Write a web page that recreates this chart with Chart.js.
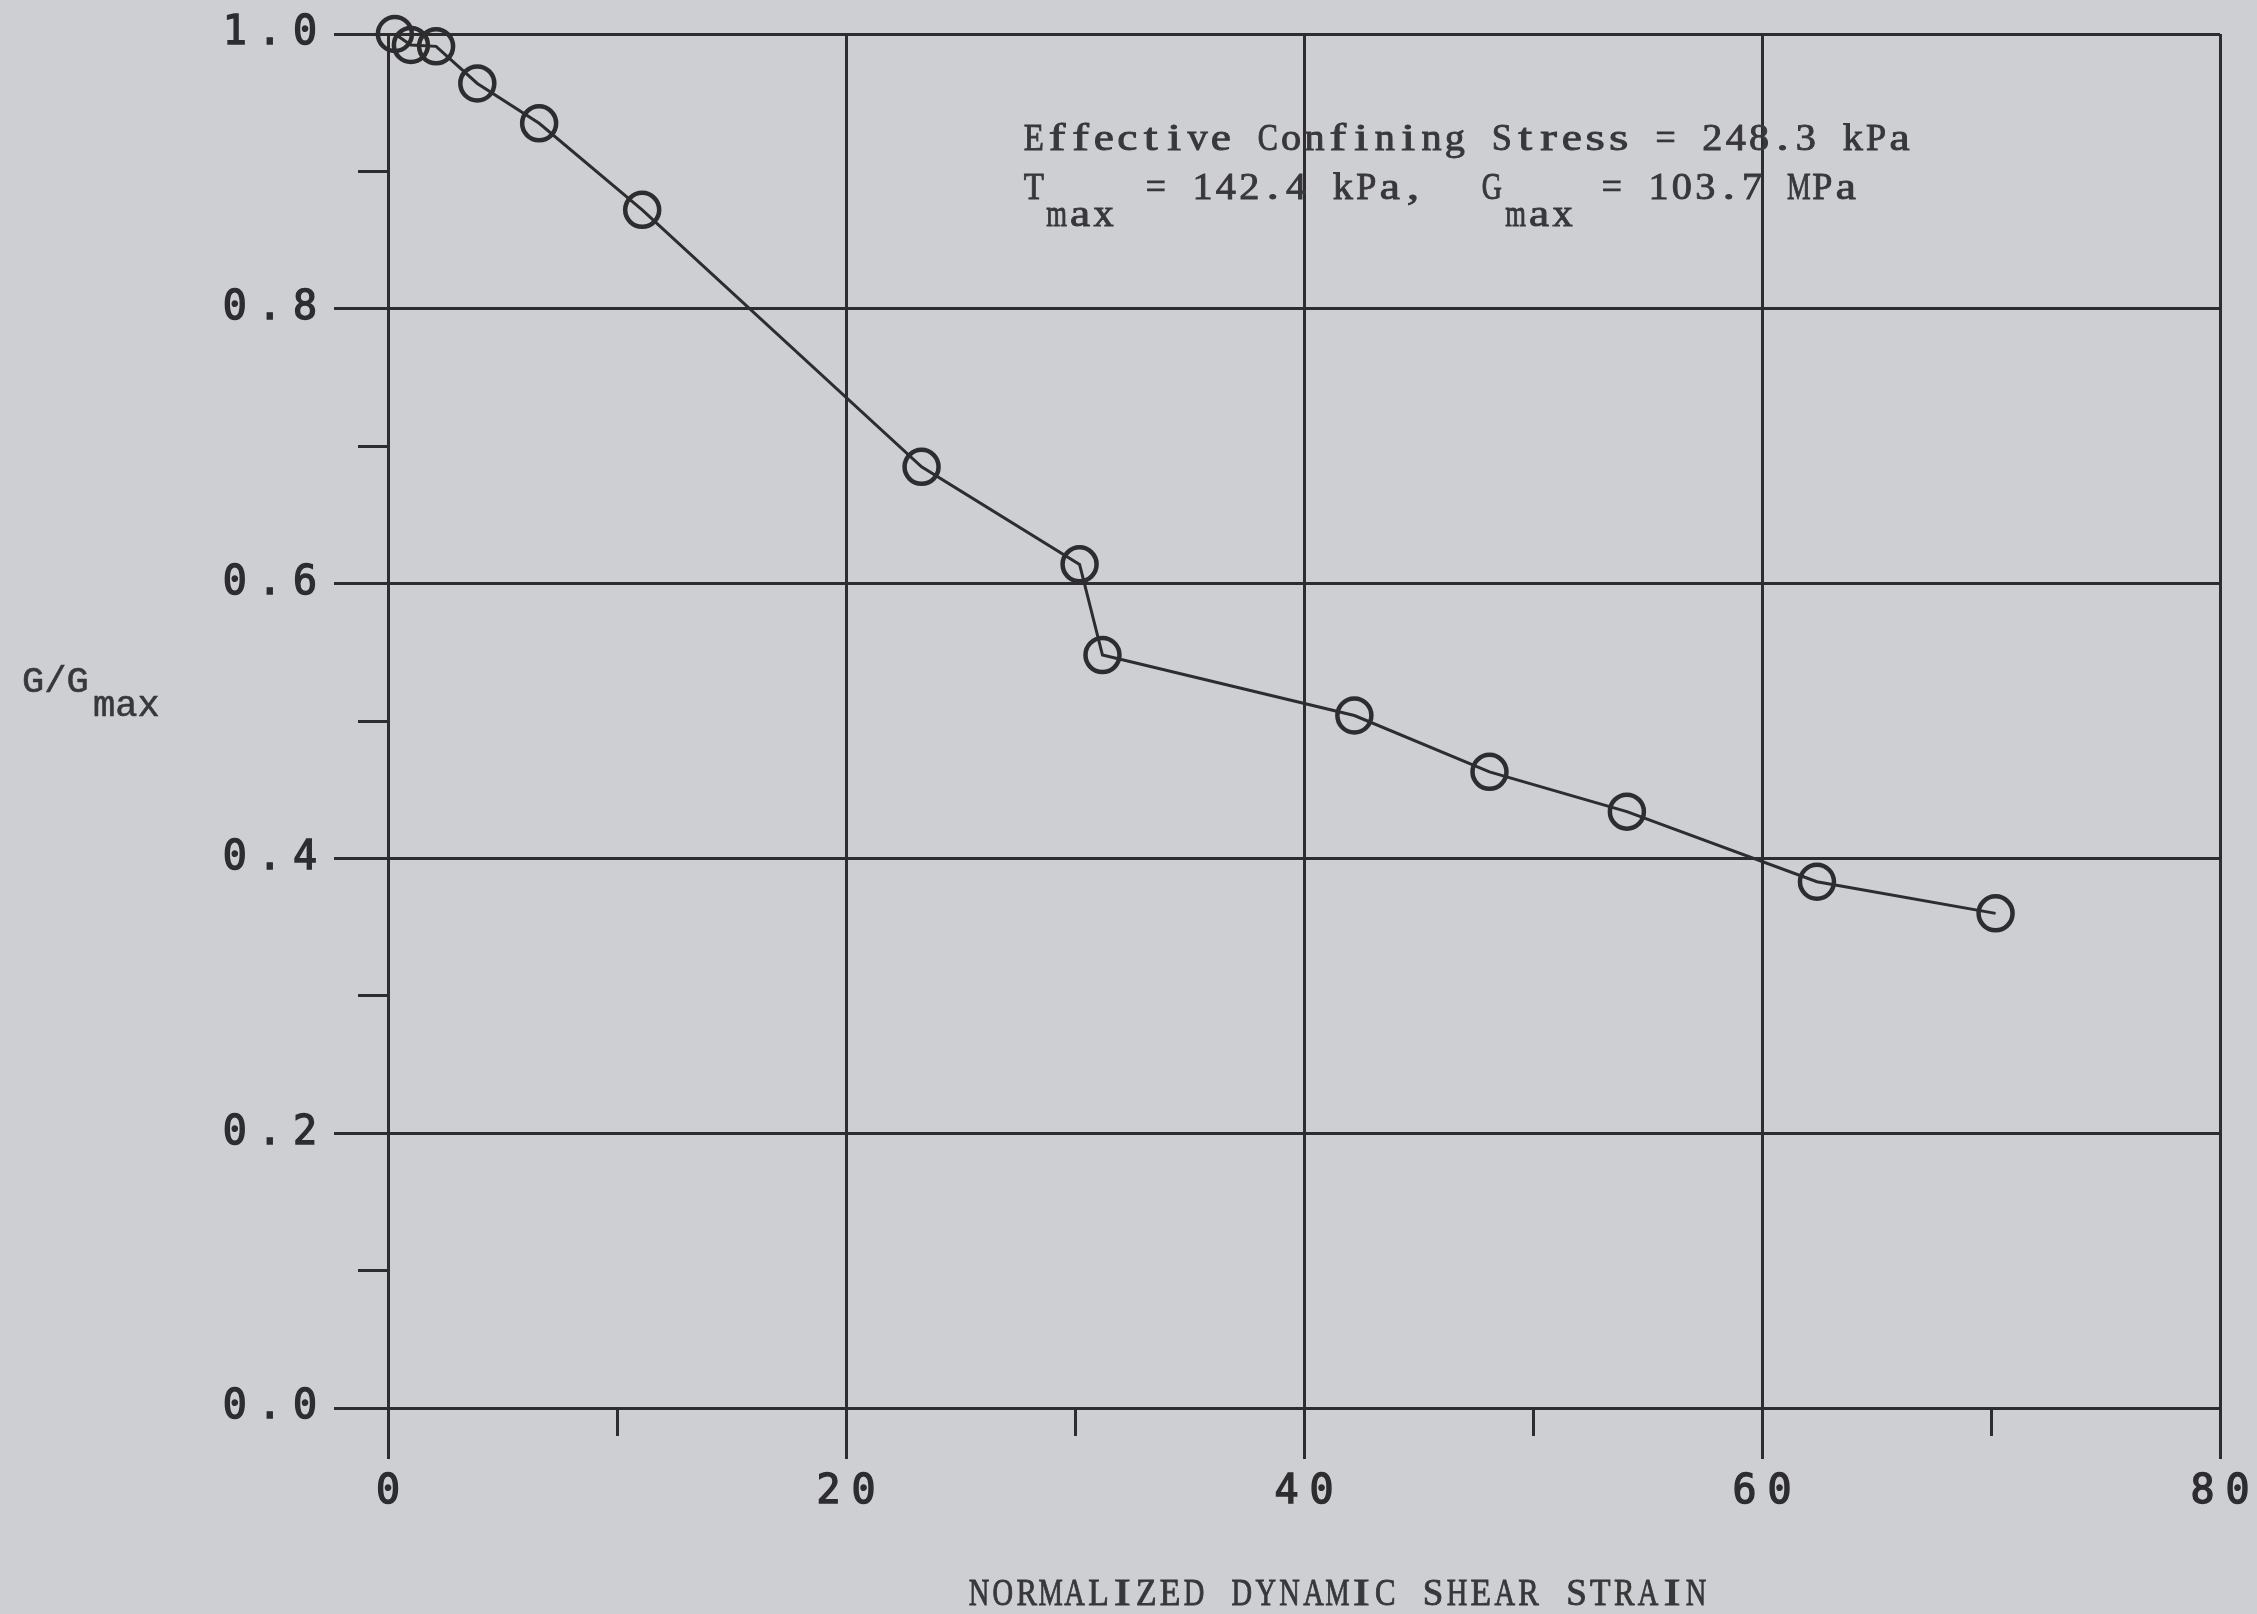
<!DOCTYPE html>
<html>
<head>
<meta charset="utf-8">
<script src="https://cdn.jsdelivr.net/npm/chart.js@4/dist/chart.umd.min.js"></script>
<style>
  html, body { margin: 0; padding: 0; background: #cecfd3; }
  canvas { display: block; }
</style>
</head>
<body>
<canvas id="c" width="2257" height="1614"></canvas>
<script>
// ---- data ----
const strainValues = [0.3, 1.0, 2.1, 3.9, 6.6, 11.1, 23.3, 30.2, 31.2, 42.2, 48.1, 54.1, 62.4, 70.2];
const modulusRatio = [1.0, 0.992, 0.991, 0.964, 0.935, 0.872, 0.685, 0.614, 0.548, 0.504, 0.463, 0.434, 0.383, 0.360];
const xMajorTicks = [0, 20, 40, 60, 80];
const yMajorTicks = [0.0, 0.2, 0.4, 0.6, 0.8, 1.0];
const xTitle = 'NORMALIZED DYNAMIC SHEAR STRAIN';
const yTitleMain = 'G/G';
const yTitleSub = 'max';
const noteLine1 = 'Effective Confining Stress = 248.3 kPa';
const noteLine2 = [['T', 'main'], ['max', 'sub'], ['= 142.4 kPa,', 'main'], ['G', 'main'], ['max', 'sub'], ['= 103.7 MPa', 'main']];

const INK = '#2d2d30';
const BG = '#cecfd3';
const TICK_FONT = '"DejaVu Sans Mono"';
const SERIF = '"Liberation Serif"';
const SPACING = 11;

const points = strainValues.map((x, i) => ({ x: x, y: modulusRatio[i] }));

// typewriter-style text: every character centred in a fixed-width cell,
// glyph widths evened out the way a typewriter face does
function drawTyped(ctx, text, x, y, pitch) {
  for (let i = 0; i < text.length; i++) {
    const ch = text[i];
    if (ch === ' ') continue;
    const w = ctx.measureText(ch).width;
    let sx = (pitch * 0.86) / w;
    sx = Math.max(0.72, Math.min(1.35, sx));
    ctx.save();
    ctx.translate(x + pitch * i + pitch / 2, y);
    ctx.scale(sx, 1);
    ctx.fillText(ch, 0, 0);
    ctx.strokeText(ch, 0, 0);
    ctx.restore();
  }
}

const decorPlugin = {
  id: 'decor',
  beforeDraw(chart) {
    const ctx = chart.ctx;
    ctx.save();
    ctx.fillStyle = BG;
    ctx.fillRect(0, 0, chart.width, chart.height);
    ctx.restore();
    ctx.letterSpacing = SPACING + 'px';
  },
  afterDraw(chart) {
    const ctx = chart.ctx;
    ctx.save();
    ctx.letterSpacing = '0px';
    ctx.fillStyle = '#38383b';
    ctx.strokeStyle = '#38383b';
    ctx.lineWidth = 0.9;
    ctx.textBaseline = 'alphabetic';
    ctx.textAlign = 'center';
    // annotation
    ctx.font = '37px ' + SERIF;
    const P = 23.4;
    drawTyped(ctx, noteLine1, 1022, 150, P);
    const xs = [1022, 1045, 1144, 1480, 1504, 1600];
    noteLine2.forEach((p, i) => {
      drawTyped(ctx, p[0], xs[i], p[1] === 'sub' ? 226 : 199, P);
    });
    // x title
    ctx.font = '38px ' + SERIF;
    drawTyped(ctx, xTitle, 967, 1605, 23.9);
    // y title
    ctx.textAlign = 'left';
    ctx.lineWidth = 0.6;
    ctx.font = '37px "Liberation Mono"';
    ctx.fillText(yTitleMain, 22, 692);
    ctx.strokeText(yTitleMain, 22, 692);
    ctx.fillText(yTitleSub, 93, 716);
    ctx.strokeText(yTitleSub, 93, 716);
    ctx.restore();
  }
};

new Chart(document.getElementById('c'), {
  type: 'line',
  data: {
    datasets: [{
      data: points,
      borderColor: INK,
      borderWidth: 3,
      pointRadius: 17,
      pointHoverRadius: 17,
      pointBorderWidth: 4.5,
      pointBorderColor: INK,
      pointBackgroundColor: 'rgba(0,0,0,0)',
      tension: 0,
      fill: false,
      clip: false
    }]
  },
  options: {
    responsive: false,
    animation: false,
    devicePixelRatio: 1,
    events: [],
    layout: { padding: { top: 34, right: 37, left: 0, bottom: 0 } },
    plugins: { legend: { display: false }, tooltip: { enabled: false } },
    scales: {
      x: {
        type: 'linear', position: 'bottom', min: 0, max: 80,
        afterBuildTicks: s => { s.ticks = xMajorTicks.map(v => ({ value: v })); },
        afterFit: s => { s.height = 206; },
        grid: { color: INK, lineWidth: 3, tickLength: 51, tickColor: INK, tickWidth: 3 },
        border: { display: true, color: INK, width: 3 },
        ticks: { color: INK, padding: 10, maxRotation: 0, autoSkip: false, labelOffset: SPACING / 2,
          textStrokeColor: INK, textStrokeWidth: 1.4,
          font: { family: TICK_FONT, size: 40 },
          callback: v => String(v) }
      },
      xMinor: {
        axis: 'x', type: 'linear', position: { y: 0 }, min: 0, max: 80,
        ticks: { display: false, stepSize: 10 },
        grid: { drawOnChartArea: false, tickLength: 28, tickColor: INK, tickWidth: 3 },
        border: { display: false }
      },
      y: {
        type: 'linear', position: 'left', min: 0, max: 1,
        afterBuildTicks: s => { s.ticks = yMajorTicks.map(v => ({ value: v })); },
        afterFit: s => { s.width = 388; },
        grid: { color: INK, lineWidth: 3, tickLength: 54, tickColor: INK, tickWidth: 3 },
        border: { display: true, color: INK, width: 3 },
        ticks: { color: INK, padding: 17 - SPACING, autoSkip: false,
          textStrokeColor: INK, textStrokeWidth: 1.4,
          font: { family: TICK_FONT, size: 40 },
          callback: v => Number(v).toFixed(1) }
      },
      yMinor: {
        axis: 'y', type: 'linear', position: { x: 0 }, min: 0, max: 1,
        ticks: { display: false, stepSize: 0.1 },
        grid: { drawOnChartArea: false, tickLength: 30, tickColor: INK, tickWidth: 3 },
        border: { display: false }
      }
    }
  },
  plugins: [decorPlugin]
});
</script>
</body>
</html>
